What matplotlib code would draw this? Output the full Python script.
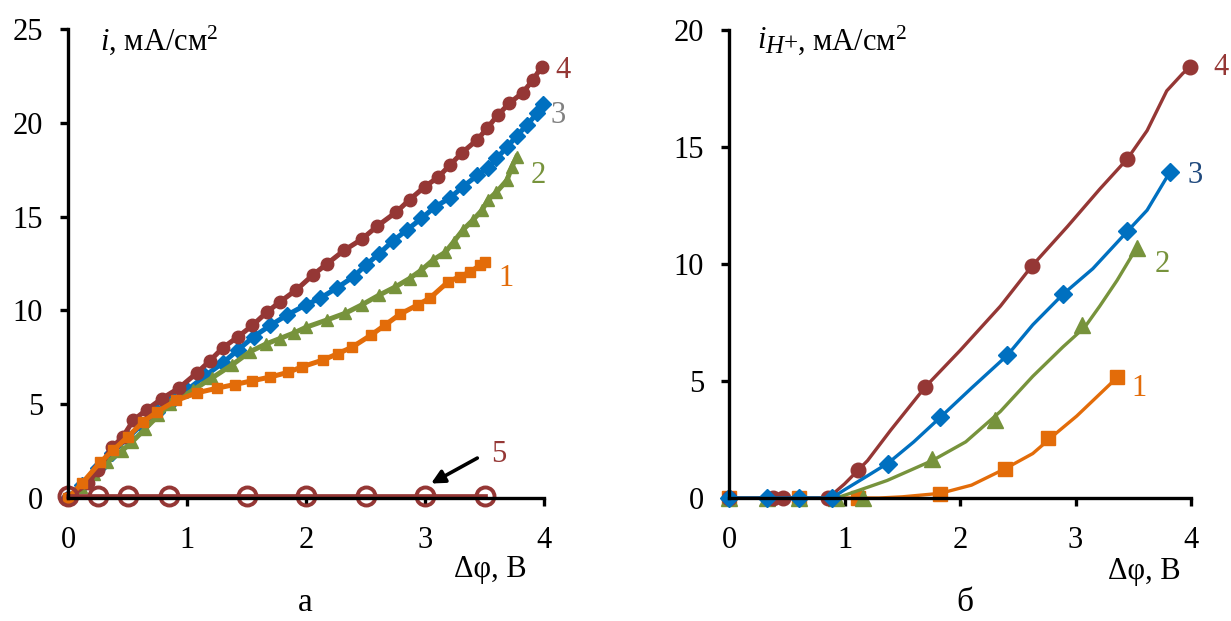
import matplotlib
matplotlib.use('Agg')
import matplotlib.pyplot as plt

plt.rcParams['font.family'] = ['Liberation Serif', 'DejaVu Serif']
plt.rcParams['mathtext.fontset'] = 'custom'
plt.rcParams['mathtext.rm'] = 'Liberation Serif'
plt.rcParams['mathtext.it'] = 'Liberation Serif:italic'

# Data
# ----------------------------------------------------------------------------

# panel a: total current density i [mA/cm2] vs potential drop [V]
a_x1 = [0, 0.12, 0.27, 0.38, 0.5, 0.63, 0.75, 0.91, 1.08, 1.25, 1.40, 1.55, 1.70, 1.85,
        1.97, 2.14, 2.27, 2.39, 2.55, 2.66, 2.79, 2.94, 3.04, 3.19, 3.29, 3.38, 3.46, 3.5]
a_y1 = [0, 0.8, 1.9, 2.55, 3.25, 4.05, 4.6, 5.2, 5.6, 5.85, 6.05, 6.25, 6.45, 6.7,
        7.0, 7.35, 7.7, 8.05, 8.7, 9.2, 9.8, 10.3, 10.65, 11.5, 11.8, 12.05, 12.4, 12.6]

a_x2 = [0, 0.11, 0.22, 0.33, 0.45, 0.54, 0.65, 0.76, 0.86, 1.05, 1.21, 1.38, 1.53, 1.66,
        1.78, 1.9, 2.0, 2.18, 2.33, 2.47, 2.61, 2.75, 2.87, 2.97, 3.07, 3.17, 3.24, 3.32,
        3.4, 3.48, 3.53, 3.6, 3.69, 3.73, 3.77]
a_y2 = [0, 0.6, 1.3, 1.9, 2.5, 3.0, 3.7, 4.4, 5.0, 5.75, 6.4, 7.1, 7.8, 8.2,
        8.5, 8.8, 9.1, 9.5, 9.85, 10.3, 10.8, 11.25, 11.7, 12.15, 12.7, 13.1, 13.65, 14.3,
        14.8, 15.35, 15.9, 16.3, 16.95, 17.65, 18.2]

a_x3 = [0, 0.12, 0.25, 0.37, 0.5, 0.62, 0.75, 0.88, 1.0, 1.15, 1.30, 1.43, 1.56, 1.70,
        1.84, 2.0, 2.12, 2.26, 2.4, 2.5, 2.61, 2.73, 2.85, 2.97, 3.08, 3.21, 3.32, 3.44,
        3.53, 3.6, 3.69, 3.77, 3.86, 3.94, 3.99]
a_y3 = [0, 0.7, 1.6, 2.4, 3.2, 3.9, 4.6, 5.2, 5.75, 6.5, 7.2, 7.9, 8.6, 9.2,
        9.75, 10.3, 10.65, 11.2, 11.8, 12.4, 13.0, 13.7, 14.3, 14.9, 15.5, 16.0, 16.6, 17.2,
        17.6, 18.1, 18.7, 19.3, 19.9, 20.5, 21.0]

a_x4 = [0, 0.17, 0.25, 0.37, 0.46, 0.55, 0.66, 0.79, 0.93, 1.08, 1.19, 1.30, 1.43, 1.55,
        1.67, 1.78, 1.92, 2.06, 2.18, 2.32, 2.47, 2.6, 2.76, 2.87, 3.0, 3.11, 3.21, 3.31,
        3.44, 3.52, 3.61, 3.71, 3.82, 3.91, 3.98]
a_y4 = [0, 0.8, 1.5, 2.7, 3.25, 4.15, 4.7, 5.3, 5.85, 6.65, 7.3, 8.0, 8.6, 9.2,
        9.9, 10.45, 11.1, 11.9, 12.5, 13.2, 13.8, 14.5, 15.25, 15.9, 16.6, 17.1, 17.75, 18.4,
        19.1, 19.7, 20.4, 21.05, 21.6, 22.3, 23.0]

a_x5 = [0, 0.25, 0.5, 0.85, 1.5, 2.0, 2.5, 3.0, 3.5]
a_y5 = [0.1, 0.1, 0.1, 0.1, 0.1, 0.1, 0.1, 0.1, 0.1]

# panel b: proton current density i_H+ [mA/cm2], markers and traced lines
b_mx1 = [0, 0.61, 1.12, 1.83, 2.39, 2.76, 3.36]
b_my1 = [0, 0, 0, 0.15, 1.25, 2.55, 5.15]
b_lx1 = [0, 1.3, 1.5, 1.83, 2.1, 2.39, 2.63, 2.84, 3.01, 3.18, 3.36]
b_ly1 = [0, 0, 0.05, 0.2, 0.55, 1.25, 1.9, 2.8, 3.5, 4.3, 5.15]

b_mx2 = [0, 0.33, 0.61, 0.93, 1.16, 1.76, 2.3, 3.06, 3.53]
b_my2 = [0, 0, 0, 0, 0, 1.65, 3.35, 7.4, 10.7]
b_lx2 = [0, 0.93, 1.05, 1.37, 1.76, 2.05, 2.35, 2.63, 2.89, 3.08, 3.21, 3.36, 3.53]
b_ly2 = [0, 0, 0.2, 0.75, 1.6, 2.4, 3.7, 5.2, 6.45, 7.3, 8.2, 9.3, 10.7]

b_mx3 = [0, 0.33, 0.61, 0.89, 1.38, 1.83, 2.41, 2.89, 3.45, 3.82]
b_my3 = [0, 0, 0, 0, 1.45, 3.45, 6.1, 8.7, 11.4, 13.95]
b_lx3 = [0, 0.89, 1.0, 1.2, 1.38, 1.6, 1.83, 2.1, 2.41, 2.63, 2.89, 3.15, 3.45, 3.62, 3.82]
b_ly3 = [0, 0, 0.35, 0.95, 1.5, 2.4, 3.45, 4.7, 6.1, 7.4, 8.7, 9.8, 11.4, 12.3, 13.95]

b_mx4 = [0, 0.38, 0.47, 0.86, 1.12, 1.70, 2.62, 3.45, 3.99]
b_my4 = [0, 0, 0, 0, 1.2, 4.75, 9.9, 14.5, 18.4]
b_lx4 = [0, 0.86, 1.0, 1.2, 1.4, 1.7, 2.0, 2.35, 2.62, 2.93, 3.21, 3.45, 3.62, 3.79, 3.93, 3.99]
b_ly4 = [0, 0, 0.6, 1.6, 2.9, 4.75, 6.3, 8.2, 9.9, 11.6, 13.2, 14.5, 15.7, 17.4, 18.15, 18.4]

c_red = '#953735'
c_blue = '#0070C0'
c_green = '#77933C'
c_orange = '#E36C09'

# Plot
# ----------------------------------------------------------------------------

W, H = 1231, 621
fig = plt.figure(figsize=(W / 100, H / 100), dpi=100)
ax1 = fig.add_axes([68 / W, 1 - 498 / H, (544 - 68) / W, (498 - 29) / H])
ax2 = fig.add_axes([729 / W, 1 - 498 / H, (1191 - 729) / W, (498 - 30) / H])


def style_ax(ax, ymax, ystep):
    ax.set_xlim(0, 4)
    ax.set_ylim(0, ymax)
    ax.set_xticks(range(5))
    ax.set_yticks(range(0, ymax + 1, ystep))
    for s in ('top', 'right'):
        ax.spines[s].set_visible(False)
    for s in ('left', 'bottom'):
        ax.spines[s].set_linewidth(2.4)
    ax.tick_params(width=2.4, length=6, labelsize=22)
    ax.tick_params(axis='y', pad=12)
    ax.tick_params(axis='x', pad=14)


def ftext(x, y, s, **kw):
    # place text by pixel position of the source figure
    fig.text(x / W, 1 - y / H, s, **kw)


lw = 3.6
ax1.plot(a_x3, a_y3, '-D', color=c_blue, lw=lw, ms=8, clip_on=False)
ax1.plot(a_x2, a_y2, '-^', color=c_green, lw=lw, ms=9, clip_on=False)
ax1.plot(a_x4, a_y4, '-o', color=c_red, lw=lw, ms=9, clip_on=False)
ax1.plot(a_x1, a_y1, '-s', color=c_orange, lw=lw, ms=7, clip_on=False)
ax1.plot(a_x5, a_y5, '-o', color=c_red, lw=3.4, ms=13, mfc='none', mew=2.8, clip_on=False)
style_ax(ax1, 25, 5)

ax1.text(4.16, 22.8, '4', color=c_red, fontsize=22, ha='center', va='center')
ax1.text(4.12, 20.4, '3', color='#808080', fontsize=22, ha='center', va='center')
ax1.text(3.95, 17.2, '2', color=c_green, fontsize=22, ha='center', va='center')
ax1.text(3.68, 11.7, '1', color=c_orange, fontsize=22, ha='center', va='center')
ax1.text(3.62, 2.3, '5', color=c_red, fontsize=22, ha='center', va='center')
ax1.annotate('', xy=(3.03, 0.7), xytext=(3.46, 2.2),
             arrowprops=dict(arrowstyle='-|>', color='black', lw=2.6, mutation_scale=20))

ax2.plot(b_lx1, b_ly1, '-', color=c_orange, lw=2.4, clip_on=False)
ax2.plot(b_mx1, b_my1, 's', color=c_orange, ms=9.5, clip_on=False)
ax2.plot(b_lx2, b_ly2, '-', color=c_green, lw=2.4, clip_on=False)
ax2.plot(b_mx2, b_my2, '^', color=c_green, ms=11, clip_on=False)
ax2.plot(b_lx4, b_ly4, '-', color=c_red, lw=2.4, clip_on=False)
ax2.plot(b_mx4, b_my4, 'o', color=c_red, ms=10.5, clip_on=False)
ax2.plot(b_lx3, b_ly3, '-', color=c_blue, lw=2.4, clip_on=False)
ax2.plot(b_mx3, b_my3, 'D', color=c_blue, ms=9, clip_on=False)
style_ax(ax2, 20, 5)

ax2.text(4.26, 18.4, '4', color=c_red, fontsize=22, ha='center', va='center')
ax2.text(4.04, 13.8, '3', color='#1F497D', fontsize=22, ha='center', va='center')
ax2.text(3.75, 10.0, '2', color=c_green, fontsize=22, ha='center', va='center')
ax2.text(3.55, 4.7, '1', color=c_orange, fontsize=22, ha='center', va='center')

# axis captions placed like in the source figure
ftext(100, 40, r'$i$, мА/см$^2$', fontsize=22, va='center')
ftext(757, 40, 'i', fontsize=22, style='italic', va='center')
ftext(765, 47, 'H', fontsize=18, style='italic', va='center')
ftext(784, 45, '+', fontsize=18, va='center')
ftext(797, 40, r', мА/см$^2$', fontsize=22, va='center')
ftext(490, 570, 'Δφ, В', fontsize=22, ha='center', va='center')
ftext(1144, 572, 'Δφ, В', fontsize=22, ha='center', va='center')
ftext(305, 603, 'а', fontsize=24, ha='center', va='center')
ftext(965, 603, 'б', fontsize=24, ha='center', va='center')

fig.savefig('out.png', dpi=100)
